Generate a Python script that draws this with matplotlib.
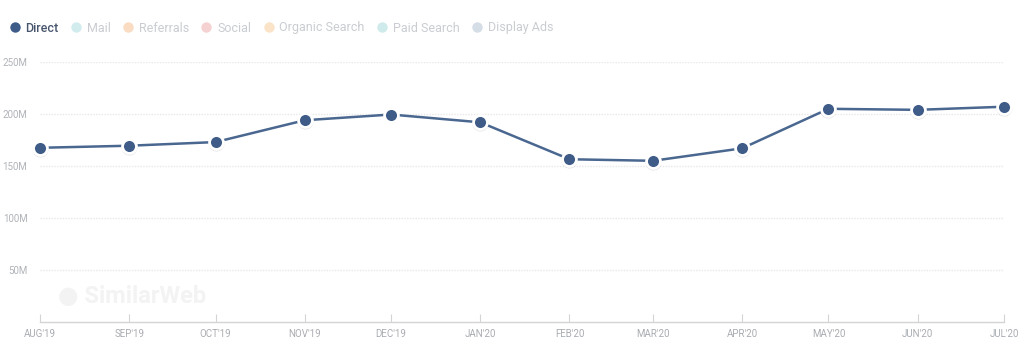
import numpy as np
import matplotlib
matplotlib.use("Agg")
import matplotlib.pyplot as plt
import matplotlib.dates as mdates
from matplotlib.lines import Line2D
from datetime import date

plt.rcParams['font.family'] = ['Roboto', 'DejaVu Sans']

# data
months = [date(2019, 8, 1), date(2019, 9, 1), date(2019, 10, 1), date(2019, 11, 1),
          date(2019, 12, 1), date(2020, 1, 1), date(2020, 2, 1), date(2020, 3, 1),
          date(2020, 4, 1), date(2020, 5, 1), date(2020, 6, 1), date(2020, 7, 1)]
tick_labels = ["AUG'19", "SEP'19", "OCT'19", "NOV'19", "DEC'19", "JAN'20",
               "FEB'20", "MAR'20", "APR'20", "MAY'20", "JUN'20", "JUL'20"]
direct = [167.5, 169.5, 173, 194, 199.5, 192, 156.5, 155, 167, 205, 204, 207]  # millions
y_ticks = [50, 100, 150, 200, 250]

legend_names = ["Direct", "Mail", "Referrals", "Social", "Organic Search", "Paid Search", "Display Ads"]
legend_colors = ["#3f5c88", "#d2ebec", "#f9dcc2", "#f6d1d1", "#fae3c6", "#cfeaea", "#d5dde7"]
legend_text_colors = ["#48566d"] + ["#c9ccd1"] * 6

fig = plt.figure(figsize=(10.24, 3.51), dpi=100)
ax = fig.add_axes([40/1024, 1 - 322/351, 964/1024, 260/351])

x = mdates.date2num(months)
ax.plot(x, direct, color="#4a6790", lw=1.8, zorder=3, clip_on=False)
# soft shadow under points
ax.plot(x, np.array(direct) - 0.8, 'o', ms=11.5, color="#000000", alpha=0.12, mec='none', zorder=4, clip_on=False)
ax.plot(x, direct, 'o', ms=10, mfc="#3f5c88", mec="white", mew=2, zorder=5, clip_on=False)

ax.set_xlim(x[0], x[-1])
ax.set_ylim(0, 250)
ax.set_xticks(x)
ax.set_xticklabels(tick_labels)
ax.set_yticks(y_ticks)
ax.set_yticklabels([f"{v}M" for v in y_ticks])

for s in ['left', 'right', 'top']:
    ax.spines[s].set_visible(False)
ax.spines['bottom'].set_color("#d4d4d4")
ax.spines['bottom'].set_linestyle((0, (2, 1)))
ax.spines['bottom'].set_linewidth(1)

ax.tick_params(axis='x', direction='in', length=6, color="#d4d4d4", labelsize=7,
               labelcolor="#a9acb1", pad=5)
ax.tick_params(axis='y', length=0, labelsize=7, labelcolor="#b0b3b8", pad=9)
ax.grid(axis='y', color="#e8e8e8", lw=1, linestyle=(0, (1, 1)))
ax.set_axisbelow(True)

# watermark
fig.text(58/1024, 1 - 296/351, "\u25cf SimilarWeb", fontsize=17, fontweight='bold',
         color="#f3f3f3", va='center', ha='left', zorder=0)

# legend
handles = []
for c in legend_colors:
    handles.append(Line2D([], [], marker='o', ls='none', ms=9, mfc=c, mec='white', mew=1.5))
leg = fig.legend(handles, legend_names, loc='center left', bbox_to_anchor=(4/1024, 1 - 28/351),
                 ncol=7, frameon=False, fontsize=9, handlelength=0.9, handletextpad=0.4,
                 columnspacing=0.95, borderaxespad=0)
for t, c in zip(leg.get_texts(), legend_text_colors):
    t.set_color(c)
leg.get_texts()[0].set_fontweight('medium')

fig.savefig("out.png", dpi=100)
